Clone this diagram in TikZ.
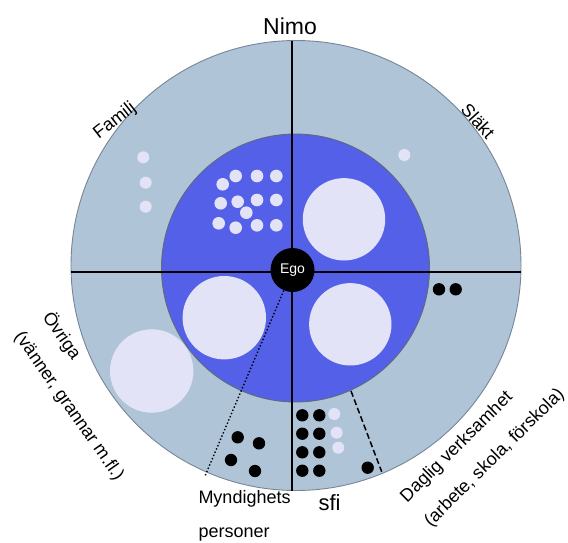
\documentclass[tikz,border=0pt]{standalone}
\usepackage{fontspec}
\setmainfont{Liberation Sans}
\definecolor{ringblue}{RGB}{176,196,216}
\definecolor{coreblue}{RGB}{84,96,232}
\definecolor{dotlight}{RGB}{226,227,246}
\definecolor{rimgray}{RGB}{118,134,150}
\newcommand{\twolines}[2]{\begin{tabular}[t]{@{}l@{}}#1\\[13pt]#2\end{tabular}}
\begin{document}
\begin{tikzpicture}[x=1pt,y=-1pt,
  lbl/.style={font=\fontsize{18}{21}\selectfont, inner sep=0pt, text=black},
  axisline/.style={line width=1.6pt, draw=black},
  lightdot/.style={fill=dotlight},
  darkdot/.style={fill=black},
  bigbubble/.style={fill=dotlight}]
\useasboundingbox (0,0) rectangle (568,542);
\fill[white] (0,0) rectangle (568,542);

% outer ring and inner core
\filldraw[fill=ringblue, draw=rimgray, line width=0.9pt] (296,265.5) circle[radius=225];
\filldraw[fill=coreblue, draw=rimgray!80!black, line width=0.9pt] (295.5,268) circle[radius=134];

% family members inside the core (small dots)
\foreach \x/\y in {222.7/184.3, 235.7/176, 257/176, 276.3/176,
                   220.7/203.3, 237.7/201.7, 257/200, 276.3/200,
                   246.3/212.7,
                   218.7/223.3, 235.7/227.7, 257/225.3, 276.3/225.3}
  \fill[lightdot] (\x,\y) circle[radius=6.3];

% big bubbles
\fill[bigbubble] (344,219.3) circle[radius=41.2];
\fill[bigbubble] (224.3,317.7) circle[radius=41.7];
\fill[bigbubble] (350.3,324.3) circle[radius=41.2];
\fill[bigbubble] (151.7,371) circle[radius=41.7];

% outer ring dots
\foreach \x/\y in {143.3/157.3, 145.7/182.7, 145.7/206.7, 404.3/155,
                   334.3/414, 336.7/432.7, 338.3/447.7}
  \fill[lightdot] (\x,\y) circle[radius=6];
\foreach \x/\y in {439/289.3, 455.7/289.3,
                   237.7/437.3, 259/443.3, 231/460, 255/471,
                   302.3/415.3, 319.3/415.3, 302.3/433.7, 319.3/433.7,
                   302.3/452.3, 319.3/452.3, 302.3/470.7, 319.3/470.7,
                   367.7/467.7}
  \fill[darkdot] (\x,\y) circle[radius=6.2];

% quadrant axes
\coordinate (ntop) at (292,40.5);
\coordinate (nbot) at (292,490.5);
\coordinate (wl) at (71.1,271.7);
\coordinate (er) at (520.9,271.7);
\draw[axisline] (ntop) -- (nbot);
\draw[axisline] (wl) -- (er);

% sector separators
\coordinate (dashA) at (351,391);
\coordinate (dashB) at (381.7,471.7);
\draw[line width=1.5pt, dash pattern=on 6pt off 3pt] (dashA) -- (dashB);

% ego
\node[circle, fill=black, minimum size=44pt, inner sep=0pt, text=white,
      font=\fontsize{14}{16}\selectfont] (ego) at (292.5,270) {Ego};
\coordinate (dotEnd) at (205,476);
\draw[line width=1.4pt, dash pattern=on 1.4pt off 2.1pt] (ego) -- (dotEnd);

% labels
\node[lbl, font=\fontsize{23}{26}\selectfont] (nimo) at (290,26) {Nimo};
\node[lbl, rotate=38] (familj) at (115,121) {Familj};
\node[lbl, rotate=-48] (slakt) at (478,121) {Släkt};
\node[lbl, rotate=-55, anchor=base west] (ovriga) at (41.9,317)
  {\twolines{Övriga}{(vänner, grannar m.fl.)}};
\node[lbl, anchor=base west] (mynd) at (198.3,503.3)
  {\twolines{Myndighets}{personer}};
\node[lbl, anchor=base west, font=\fontsize{22}{25}\selectfont] (sfi) at (318.3,510) {sfi};
\node[lbl, rotate=44.6, anchor=base west] (daglig) at (407,503.2)
  {\twolines{Daglig verksamhet}{(arbete, skola, förskola)}};
\end{tikzpicture}
\end{document}
